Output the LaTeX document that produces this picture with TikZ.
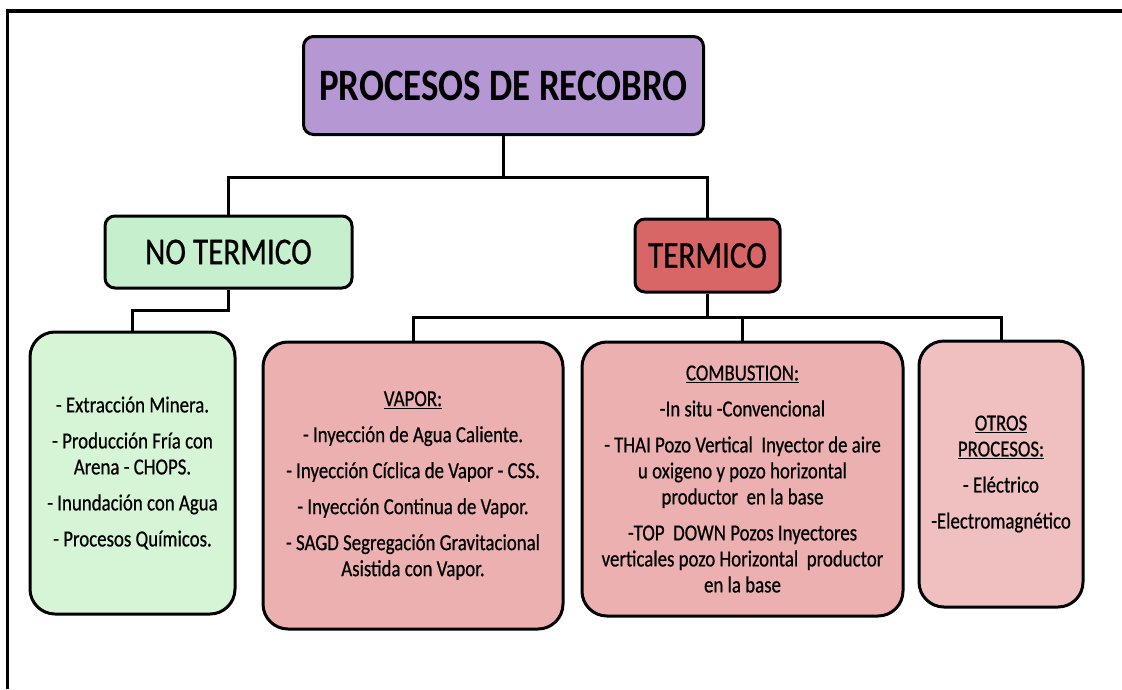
\documentclass[tikz,border=0pt]{standalone}
\usepackage{fontspec}
\setmainfont{Carlito}[FakeStretch=0.82, UprightFeatures={FakeBold=0.6}]
\usepackage{xcolor}

\definecolor{rootPurple}{RGB}{180,151,211}
\definecolor{notermGreen}{RGB}{198,239,206}
\definecolor{listGreen}{RGB}{214,245,214}
\definecolor{termRed}{RGB}{217,102,102}
\definecolor{listPink}{RGB}{236,176,176}
\definecolor{otherPink}{RGB}{240,191,191}

\tikzset{
  box/.style={draw=black, line width=3pt, rounded corners=10pt, inner sep=0pt, align=center},
  listbox/.style={box, rounded corners=25pt, font=\fontsize{23}{26}\selectfont},
  link/.style={draw=black, line width=3pt},
}

\begin{document}
\begin{tikzpicture}[x=1pt,y=1pt,yscale=-1,xscale=1]
\useasboundingbox (0,0) rectangle (1122,689);

%Shape: Frame
\draw [line width=3.5pt] (1122,11) -- (7.5,11) -- (7.5,689) ;

%Shape: Rounded Rectangle [root]
\node [box, fill=rootPurple, minimum width=400, minimum height=98, font=\bfseries\fontsize{45}{50}\selectfont] (root) at (503.5,85.5) {PROCESOS DE RECOBRO};
%Shape: Rounded Rectangle [noterm]
\node [box, fill=notermGreen, minimum width=247, minimum height=72, font=\fontsize{38}{42}\selectfont] (noterm) at (228.5,252) {NO TERMICO};
%Shape: Rounded Rectangle [term]
\node [box, fill=termRed, minimum width=145, minimum height=73, font=\fontsize{38}{42}\selectfont] (term) at (707.5,255.5) {TERMICO};

% Text Node
\node [listbox, fill=listGreen, minimum width=205, minimum height=282] (notermlist) at (132.5,473) {- Extracción Minera.\\[10pt]- Producción Fría con\\Arena - CHOPS.\\[10pt]- Inundación con Agua\\[10pt]- Procesos Químicos.};
% Text Node
\node [listbox, fill=listPink, minimum width=300, minimum height=287] (vapor) at (413,485.5) {\underline{VAPOR:}\\[10pt]- Inyección de Agua Caliente.\\[10pt]- Inyección Cíclica de Vapor - CSS.\\[10pt]- Inyección Continua de Vapor.\\[10pt]- SAGD Segregación Gravitacional\\Asistida con Vapor.};
% Text Node
\node [listbox, fill=listPink, minimum width=321, minimum height=274] (combustion) at (742.5,479) {\underline{COMBUSTION:}\\[10pt]-In situ -Convencional\\[10pt]- THAI Pozo Vertical~ Inyector de aire\\u oxigeno y pozo horizontal\\productor~ en la base\\[10pt]-TOP~ DOWN Pozos Inyectores\\verticales pozo Horizontal~ productor\\en la base};
% Text Node
\node [listbox, fill=otherPink, minimum width=164, minimum height=266] (otros) at (1001,474) {\underline{OTROS}\\\underline{PROCESOS:}\\[10pt]- Eléctrico\\[10pt]-Electromagnético};

%Straight Lines
\draw [link] (root.south) -- ++(0,41) -| (noterm.north) ;
\draw [link] (root.south) -- ++(0,41) -| (term.north) ;
\draw [link] (noterm.south) -- ++(0,21) -| (notermlist.north) ;
\draw [link] (term.south) -- ++(0,24) -| (vapor.north) ;
\draw [link] (term.south) -- ++(0,24) -| (combustion.north) ;
\draw [link] (term.south) -- ++(0,24) -| (otros.north) ;

\end{tikzpicture}
\end{document}
